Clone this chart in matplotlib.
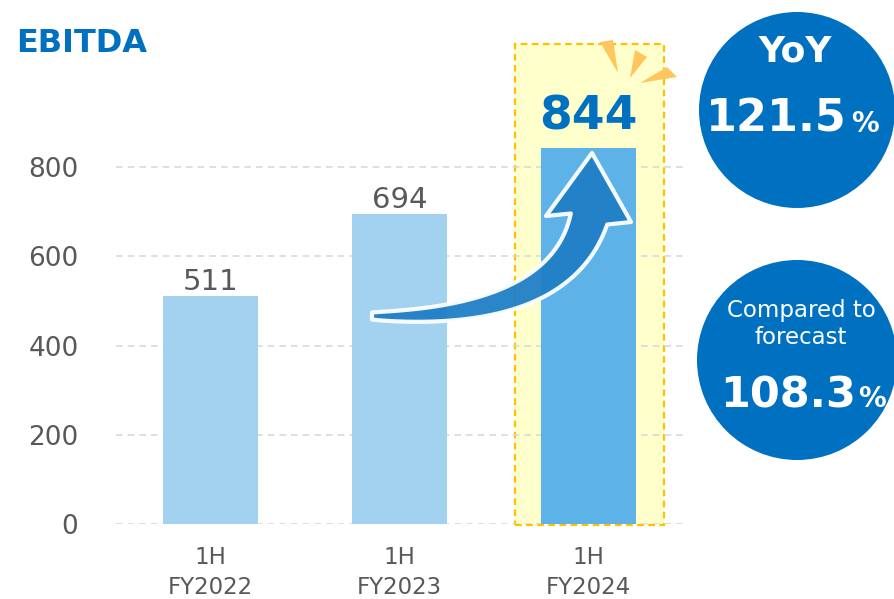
import numpy as np
import matplotlib.pyplot as plt
from matplotlib.patches import Rectangle, Circle, Polygon

# Data
categories = ["1H\nFY2022", "1H\nFY2023", "1H\nFY2024"]
ebitda = [511, 694, 844]
yticks = [0, 200, 400, 600, 800]
yoy_text = "121.5"
forecast_text = "108.3"

W, H = 894, 599
blue = "#0070C0"
grey = "#595959"

fig = plt.figure(figsize=(W / 100, H / 100), dpi=100)
ax = fig.add_axes([116 / W, 75 / H, 567 / W, 446 / H])
ax.set_xlim(-0.5, 2.5)
ax.set_ylim(0, 1000)

# pixel (top-left origin) -> figure fraction
def px(x, y):
    return (x / W, (H - y) / H)

x = np.arange(len(categories))

# highlight box behind last bar
ax.add_patch(Rectangle((1.61, -2), 0.79, 1078, facecolor="#FFFFCC", edgecolor="#FFC000",
                       lw=1.6, ls=(0, (3, 2)), clip_on=False, zorder=0))

for v in yticks:
    ax.axhline(v, color="#D9D9D9", lw=1.2, ls=(0, (4, 3)), zorder=1)

colors = ["#A2D2F0", "#A2D2F0", "#5DB2E7"]
ax.bar(x, ebitda, width=0.5, color=colors, zorder=2)

for i, v in enumerate(ebitda[:2]):
    ax.annotate(str(v), (x[i], v), xytext=(0, 0), textcoords="offset points",
                ha="center", va="bottom", fontsize=21, color=grey)
ax.annotate(str(ebitda[2]), (x[2], ebitda[2]), xytext=(0, 6), textcoords="offset points",
            ha="center", va="bottom", fontsize=34, fontweight="bold", color=blue)

ax.set_yticks(yticks)
ax.set_xticks(x)
ax.set_xticklabels(categories, fontsize=16.5, color=grey, linespacing=1.4)
ax.tick_params(axis="y", length=0, pad=27, labelsize=19, labelcolor=grey)
ax.tick_params(axis="x", length=0, pad=16)
for s in ax.spines.values():
    s.set_visible(False)

# curved arrow
p0, p1, p2 = np.array([372, 316]), np.array([560, 320]), np.array([589, 219])
t = np.linspace(0, 1, 60)
pts = ((1 - t) ** 2)[:, None] * p0 + (2 * (1 - t) * t)[:, None] * p1 + (t ** 2)[:, None] * p2
d = np.gradient(pts, axis=0)
d /= np.linalg.norm(d, axis=1)[:, None]
nrm = np.stack([-d[:, 1], d[:, 0]], axis=1)
w = 3.5 + 15.5 * t ** 0.8
edge_a = pts + nrm * w[:, None]
edge_b = pts - nrm * w[:, None]
if edge_a[-1, 0] > edge_b[-1, 0]:
    edge_a, edge_b = edge_b, edge_a
head = np.array([[546, 216], [592, 153], [631, 222]])
poly = np.vstack([edge_a, head, edge_b[::-1]])
poly_fig = np.array([px(a, b) for a, b in poly])
fig.patches.append(Polygon(poly_fig, closed=True, transform=fig.transFigure,
                           facecolor="#1F7FC6", edgecolor="white", lw=3, alpha=0.95,
                           joinstyle="round", zorder=5))

# sparkle rays
rays = [
    [(600, 42), (613, 40), (618, 73)],
    [(635, 50), (647, 57), (630, 78)],
    [(667, 67), (677, 77), (640, 83)],
]
for r in rays:
    fig.patches.append(Polygon([px(a, b) for a, b in r], closed=True, transform=fig.transFigure,
                               facecolor="#FFC55E", edgecolor="none", zorder=5))

# circles (inch units so they stay round)
for cx, cy, r in [(797, 110, 98), (797, 360, 100)]:
    fig.patches.append(Circle((cx / 100, (H - cy) / 100), r / 100, transform=fig.dpi_scale_trans,
                              facecolor=blue, edgecolor="none", zorder=1))

fig.text(*px(16, 43), "EBITDA", fontsize=23, fontweight="bold", color=blue, va="center")

fig.text(*px(795, 51), "YoY", fontsize=26, fontweight="bold", color="white", ha="center", va="center")
fig.text(*px(847, 132), yoy_text, fontsize=32, fontweight="bold", color="white", ha="right", va="baseline")
fig.text(*px(851, 132), "%", fontsize=20, fontweight="bold", color="white", ha="left", va="baseline")

fig.text(*px(801, 310), "Compared to", fontsize=16.5, color="white", ha="center", va="center")
fig.text(*px(801, 338), "forecast", fontsize=16.5, color="white", ha="center", va="center")
fig.text(*px(856, 407), forecast_text, fontsize=31, fontweight="bold", color="white", ha="right", va="baseline")
fig.text(*px(858, 407), "%", fontsize=20, fontweight="bold", color="white", ha="left", va="baseline")

fig.savefig("out.png", dpi=100)
